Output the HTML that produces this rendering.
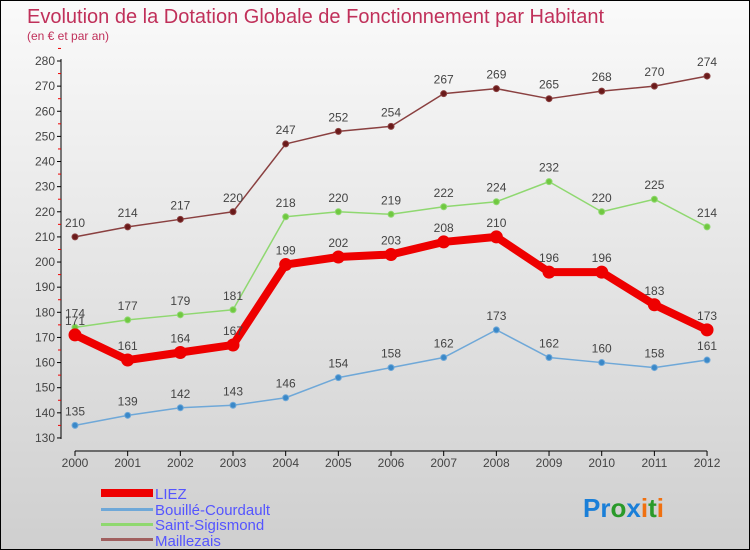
<!DOCTYPE html>
<html><head><meta charset="utf-8"><style>
body{margin:0}
#c{width:748px;height:548px;border:1px solid #000;background:linear-gradient(#fafafa,#cfcfcf);position:relative;overflow:hidden;font-family:"Liberation Sans",sans-serif}
text{font-family:"Liberation Sans",sans-serif}
</style></head><body>
<div id="c">
<svg id="s" width="748" height="548">
<text x="26" y="22" font-size="20" fill="#c0305a">Evolution de la Dotation Globale de Fonctionnement par Habitant</text>
<text x="26" y="39" font-size="12" fill="#c0305a">(en € et par an)</text>
<g id="ax"></g><g id="ser"></g>
<g>
<rect x="100" y="488" width="52" height="8" fill="#e00"/>
<text x="154" y="498" font-size="15" fill="#55f">LIEZ</text>
<rect x="100" y="507" width="52" height="3" fill="#6fa8d8"/>
<text x="154" y="514" font-size="15" fill="#55f">Bouillé-Courdault</text>
<rect x="100" y="522" width="52" height="3" fill="#8fd870"/>
<text x="154" y="529" font-size="15" fill="#55f">Saint-Sigismond</text>
<rect x="100" y="537" width="52" height="3" fill="#a06060"/>
<text x="154" y="545" font-size="15" fill="#55f">Maillezais</text>
</g>
<g font-size="26" font-weight="bold">
<text x="582" y="516"><tspan fill="#1a7fd8">Pr</tspan><tspan fill="#2a9a2a">o</tspan><tspan fill="#1a7fd8">x</tspan><tspan fill="#f07010">i</tspan><tspan fill="#2a9a2a">t</tspan><tspan fill="#f07010">i</tspan></text>
</g>
</svg>
</div>
<script>
const years=[2000,2001,2002,2003,2004,2005,2006,2007,2008,2009,2010,2011,2012];
const liez=[171,161,164,167,199,202,203,208,210,196,196,183,173];
const bouille=[135,139,142,143,146,154,158,162,173,162,160,158,161];
const saint=[174,177,179,181,218,220,219,222,224,232,220,225,214];
const maillezais=[210,214,217,220,247,252,254,267,269,265,268,270,274];
const yTicks=[130,140,150,160,170,180,190,200,210,220,230,240,250,260,270,280];
const NS="http://www.w3.org/2000/svg";
const X=i=>74+i*52.67, Y=v=>60+(280-v)*2.513;
function mk(t,a,p){const e=document.createElementNS(NS,t);for(const k in a)e.setAttribute(k,a[k]);p.appendChild(e);return e;}
const ax=document.getElementById('ax'),ser=document.getElementById('ser');
const ya=mk('line',{x1:60,y1:58,x2:60,y2:438,stroke:'#000'},ax);

const xa=mk('line',{x1:74,y1:450,x2:706,y2:450,stroke:'#000'},ax);

yTicks.forEach(v=>{
 mk('line',{x1:56,y1:Y(v),x2:60,y2:Y(v),stroke:'#000'},ax);
 mk('line',{x1:57,y1:Y(v+5),x2:60,y2:Y(v+5),stroke:'#e00'},ax);
 const t=mk('text',{x:54,y:Y(v)+4,'font-size':12,'text-anchor':'end',fill:'#444'},ax);t.textContent=v;
 
});
years.forEach((y,i)=>{
 mk('line',{x1:X(i),y1:450,x2:X(i),y2:455,stroke:'#000'},ax);
 const t=mk('text',{x:X(i),y:466,'font-size':12,'text-anchor':'middle',fill:'#444'},ax);t.textContent=y;
 
});
function series(d,col,dot,w,r,name){
 const g=mk('g',{},ser);
 
 mk('polyline',{points:d.map((v,i)=>X(i)+','+Y(v)).join(' '),fill:'none',stroke:col,'stroke-width':w,'stroke-linejoin':'round'},g);
 d.forEach((v,i)=>{
  const c=mk('circle',{cx:X(i),cy:Y(v),r:r,fill:dot,stroke:col,'stroke-width':1},g);
  
  const t=mk('text',{x:X(i),y:Y(v)-10,'font-size':12,'text-anchor':'middle',fill:'#444'},g);t.textContent=v;
  
 });
}
series(maillezais,'#8a4040','#6a1a1a',1.5,3,'series-maillezais');
series(saint,'#8fd870','#70c840',1.5,3,'series-saint-sigismond');
series(bouille,'#6fa8d8','#3a88c8',1.5,3,'series-bouille-courdault');
series(liez,'#e00','#e00',8,6,'series-liez');
</script>
</body></html>
